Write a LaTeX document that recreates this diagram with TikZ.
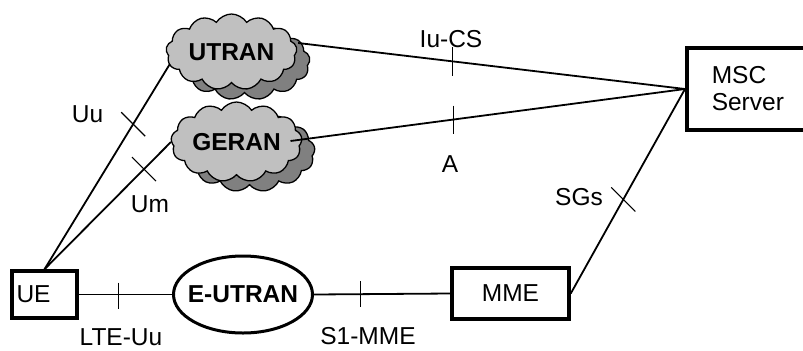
\documentclass[tikz,border=0pt]{standalone}
\usepackage{fontspec}
\setmainfont{Liberation Sans}
\usetikzlibrary{shapes.geometric,shapes.symbols,calc}
\definecolor{cloudlight}{HTML}{C0C0C0}
\definecolor{clouddark}{HTML}{808080}
\tikzset{
  every node/.style={font=\fontsize{24.5bp}{27bp}\selectfont},
  boldtxt/.style={font=\fontsize{24.5bp}{27bp}\selectfont\bfseries},
  box/.style={draw, line width=3.5bp, inner sep=0pt},
  ln/.style={line width=1.8bp},
  tk/.style={line width=1.1bp},
  cloudfront/.style={cloud, cloud puffs=13, cloud puff arc=115, cloud ignores aspect,
    draw, line width=1.3bp, fill=cloudlight, inner sep=0pt, boldtxt},
  cloudshadow/.style={cloudfront, fill=clouddark},
  lbl/.style={anchor=base, inner sep=0pt}
}
\begin{document}
\begin{tikzpicture}[x=1bp,y=-1bp]
\useasboundingbox (0,0) rectangle (803,350);
\clip (0,0) rectangle (803,350);

% clouds (shadows then fronts)
\node[cloudshadow, minimum width=131bp, minimum height=76bp] (UTRANs) at (244.5,62) {};
\node[cloudfront, minimum width=131bp, minimum height=76bp] (UTRAN) at (231.5,52) {UTRAN};
\node[cloudshadow, minimum width=131bp, minimum height=80bp] (GERANs) at (249.5,152) {};
\node[cloudfront, minimum width=131bp, minimum height=80bp] (GERAN) at (236.5,142) {GERAN};

% boxes
\node[box, minimum height=47bp, text width=56bp, inner xsep=4.5bp, align=left] (UE) at (44.5,294.5) {UE};
\node[ellipse, draw, line width=3bp, minimum width=139bp, minimum height=77bp, inner sep=0pt,
      label={[boldtxt, inner sep=0pt]center:E-UTRAN}] (EUTRAN) at (243,294.5) {};
\node[box, minimum width=117bp, minimum height=51bp] (MME) at (510.5,293.5) {MME};
\node[box, anchor=west, minimum height=82bp, text width=88bp, inner xsep=25bp, align=left] (MSC) at (685,89) {MSC\\Server};

% connectors
\draw[ln] (UE.north) -- ($(UTRAN.west)+(4,12)$) coordinate[pos=0.707] (tUu);
\draw[ln] (UE.north) -- (GERAN.west) coordinate[pos=0.787] (tUm);
\draw[ln] ($(UTRAN.east)+(1,-9)$) -- (MSC.west) coordinate[pos=0.40] (tIu);
\draw[ln] ($(GERAN.center)+(54,-1)$) -- (MSC.west) coordinate[pos=0.413] (tA);
\draw[ln] (UE.east) -- (EUTRAN.west) coordinate[pos=0.43] (tLTE);
\draw[ln] (EUTRAN.east) -- (MME.west) coordinate[pos=0.34] (tS1);
\draw[ln] (MME.east) -- (MSC.west) coordinate[pos=0.46] (tSG);

% ticks
\draw[tk] ($(tUu)+(-12,-12)$) -- ($(tUu)+(12,12)$);
\draw[tk] ($(tUm)+(-12,-12)$) -- ($(tUm)+(12,12)$);
\draw[tk] ($(tSG)+(-12,-12)$) -- ($(tSG)+(12,12)$);
\draw[tk] ($(tIu)+(0,-14)$) -- ($(tIu)+(0,15)$);
\draw[tk] ($(tA)+(0,-14)$) -- ($(tA)+(0,14)$);
\draw[tk] ($(tLTE)+(0,-12)$) -- ($(tLTE)+(0,14)$);
\draw[tk] ($(tS1)+(0,-13)$) -- ($(tS1)+(0,13)$);

% labels
\node[lbl] (lUu) at (87.5,122) {Uu};
\node[lbl] (lUm) at (150,212) {Um};
\node[lbl] (lIu) at (451,47) {Iu-CS};
\node[lbl] (lA) at (450,172) {A};
\node[lbl] (lSG) at (579,205) {SGs};
\node[lbl] (lLTE) at (121,345) {LTE-Uu};
\node[lbl] (lS1) at (368,344) {S1-MME};
\end{tikzpicture}
\end{document}
